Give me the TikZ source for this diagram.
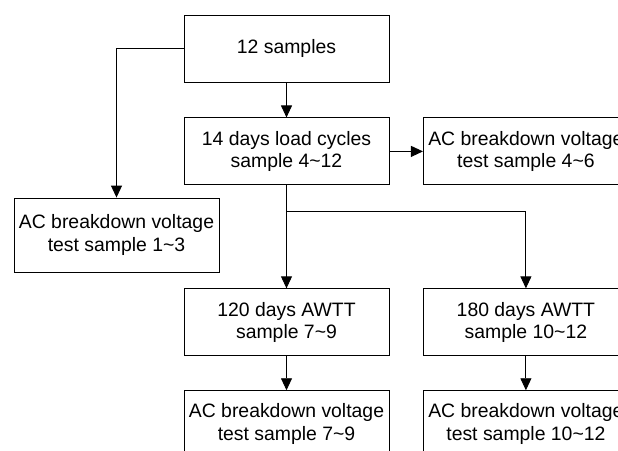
\documentclass[tikz,border=0pt]{standalone}
\usepackage{fontspec}
\setmainfont{Liberation Sans}
\usetikzlibrary{arrows.meta,positioning,calc}

\begin{document}
\begin{tikzpicture}[x=1pt, y=-1pt, node distance=34pt,
    box/.style={draw, rectangle, line width=0.9pt, inner sep=0pt, align=center,
        minimum width=205pt, minimum height=67pt,
        font=\fontsize{19.4}{22.5}\selectfont},
    arr/.style={-{Triangle[width=11pt,length=12pt]}, line width=0.9pt}]
    \useasboundingbox (0,0) rectangle (618,450);
    \clip (0,0) rectangle (618,450);

    \node (samples) [box] at (286.5,48.5) {12 samples};
    \node (cycles) [box, below=35pt of samples] {14 days load cycles\\sample 4\textasciitilde12};
    \node (ac46) [box, right=33.5pt of cycles] {AC breakdown voltage\\test sample 4\textasciitilde6};
    \node (ac13) [box, minimum height=74pt] at (116.5,235) {AC breakdown voltage\\test sample 1\textasciitilde3};
    \node (awtt120) [box, below=103pt of cycles] {120 days AWTT\\sample 7\textasciitilde9};
    \node (awtt180) [box, right=33.5pt of awtt120] {180 days AWTT\\sample 10\textasciitilde12};
    \node (ac79) [box, below=34pt of awtt120] {AC breakdown voltage\\test sample 7\textasciitilde9};
    \node (ac1012) [box, below=34pt of awtt180] {AC breakdown voltage\\test sample 10\textasciitilde12};

    \coordinate (split) at ($(cycles.south)+(0,26)$);

    \draw [arr] (samples) -- (cycles);
    \draw [arr] (samples.west) -| (ac13.north);
    \draw [arr] (cycles) -- (ac46);
    \draw [arr] (cycles) -- (awtt120);
    \draw [arr] (split) -| (awtt180.north);
    \draw [arr] (awtt120) -- (ac79);
    \draw [arr] (awtt180) -- (ac1012);
\end{tikzpicture}
\end{document}
